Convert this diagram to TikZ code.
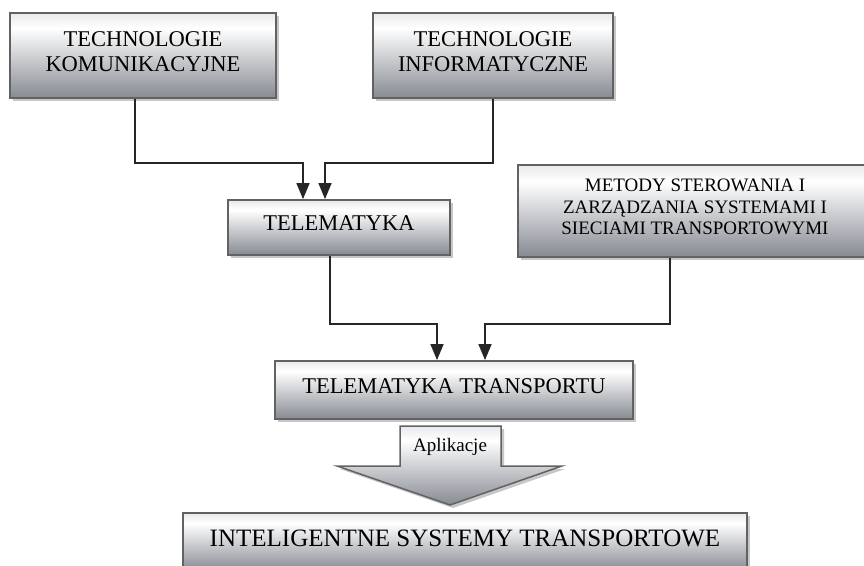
\documentclass[tikz,border=0pt]{standalone}
\usepackage{fontspec}
\setmainfont{Liberation Serif}
\usetikzlibrary{arrows.meta,shadows}
\definecolor{boxtop}{RGB}{232,233,235}
\definecolor{boxbot}{RGB}{134,138,146}
\definecolor{boxline}{RGB}{98,98,98}
\pgfdeclareverticalshading{boxshade}{100bp}{color(0bp)=(boxbot); color(25bp)=(boxbot); color(66bp)=(white); color(75bp)=(boxtop); color(100bp)=(boxtop)}
\tikzset{
  box/.style={draw=boxline, line width=1.8pt, shading=boxshade, inner sep=0pt, align=center,
    text depth=8pt, drop shadow={shadow xshift=3pt, shadow yshift=-3pt, fill=black!22, opacity=1}},
  bigtext/.style={font=\fontsize{22.5}{25}\selectfont},
  conn/.style={draw=black!85, line width=1.5pt, -{Triangle[length=16pt,width=13pt]}},
}

\begin{document}
\begin{tikzpicture}[x=1pt,y=-1pt]
    \clip (0,0) rectangle (864,565);
    \node[box,bigtext,minimum width=266pt,minimum height=85pt] (kom) at (143,55.5) {TECHNOLOGIE\\KOMUNIKACYJNE};
    \node[box,bigtext,minimum width=240pt,minimum height=85pt] (inf) at (493,55.5) {TECHNOLOGIE\\INFORMATYCZNE};
    \node[box,bigtext,minimum width=222pt,minimum height=55pt] (tel) at (339,227.5) {TELEMATYKA};
    \node[box,font=\fontsize{19}{21.5}\selectfont,minimum width=354pt,minimum height=92pt] (met) at (695,211) {METODY STEROWANIA I\\ZARZĄDZANIA SYSTEMAMI I\\SIECIAMI TRANSPORTOWYMI};
    \node[box,bigtext,minimum width=358pt,minimum height=58pt] (tt) at (454,390) {TELEMATYKA TRANSPORTU};
    \node[box,font=\fontsize{25}{28}\selectfont,minimum width=564pt,minimum height=58pt] (its) at (465,542) {INTELIGENTNE SYSTEMY TRANSPORTOWE};
    % connectors
    \draw[conn] ([xshift=-8pt]kom.south) -- ++(0,64) -| ([xshift=-36pt]tel.north);
    \draw[conn] (inf.south) -- ++(0,64) -| ([xshift=-14pt]tel.north);
    \draw[conn] ([xshift=-9pt]tel.south) -- ++(0,68) -| ([xshift=-17pt]tt.north);
    \draw[conn] ([xshift=-25pt]met.south) -- ++(0,66) -| ([xshift=31pt]tt.north);
    % big arrow
    \draw[box,line width=1.5pt] (400,426) -- (501,426) -- (501,466) -- (562,466) -- (450,505) -- (337,466) -- (400,466) -- cycle;
    \node[font=\fontsize{19}{21}\selectfont] (apl) at (450,447) {Aplikacje};
\end{tikzpicture}
\end{document}
